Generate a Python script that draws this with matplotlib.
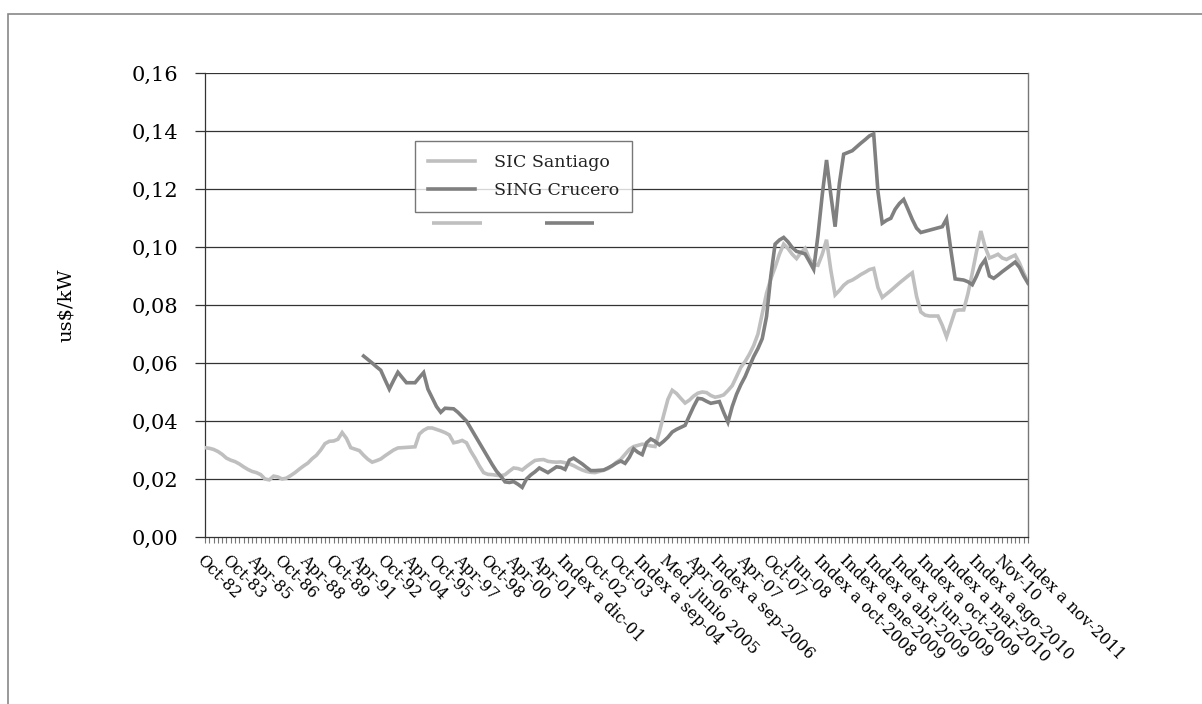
import matplotlib
import numpy as np
from matplotlib import pyplot as plt
from matplotlib.lines import Line2D
from matplotlib.patches import Rectangle
from matplotlib.ticker import FuncFormatter, MultipleLocator

matplotlib.use('Agg')

# etiquetas del eje x (una cada 6 categorías)
tick_labels = [
    'Oct-82', 'Oct-83', 'Apr-85', 'Oct-86', 'Apr-88', 'Oct-89', 'Apr-91',
    'Oct-92', 'Apr-04', 'Oct-95', 'Apr-97', 'Oct-98', 'Apr-00', 'Apr-01',
    'Index a dic-01', 'Oct-02', 'Oct-03', 'Index a sep-04', 'Med. junio 2005',
    'Apr-06', 'Index a sep-2006', 'Apr-07', 'Oct-07', 'Jun-08',
    'Index a oct-2008', 'Index a ene-2009', 'Index a abr-2009',
    'Index a jun-2009', 'Index a oct-2009', 'Index a mar-2010',
    'Index a ago-2010', 'Nov-10', 'Index a nov-2011',
]
label_step = 6

# SIC Santiago, us$/kW
sic_santiago = [
    0.0308, 0.0306, 0.0302, 0.0295, 0.0285, 0.0272, 0.0265, 0.0260, 0.0252, 0.0242,
    0.0233, 0.0226, 0.0222, 0.0215, 0.0200, 0.0197, 0.0210, 0.0207, 0.0200, 0.0203,
    0.0212, 0.0222, 0.0234, 0.0245, 0.0255, 0.0270, 0.0282, 0.0300, 0.0322, 0.0330,
    0.0331, 0.0337, 0.0360, 0.0340, 0.0308, 0.0303, 0.0298, 0.0282, 0.0268, 0.0258,
    0.0263, 0.0269, 0.0280, 0.0290, 0.0300, 0.0307, 0.0308, 0.0309, 0.0310, 0.0311,
    0.0355, 0.0368, 0.0376, 0.0376, 0.0371, 0.0366, 0.0360, 0.0352, 0.0325, 0.0328,
    0.0333, 0.0325, 0.0296, 0.0272, 0.0245, 0.0222, 0.0216, 0.0215, 0.0213, 0.0211,
    0.0215, 0.0227, 0.0238, 0.0236, 0.0231, 0.0243, 0.0254, 0.0264, 0.0266, 0.0267,
    0.0261, 0.0259, 0.0258, 0.0259, 0.0256, 0.0252, 0.0246, 0.0238, 0.0231, 0.0226,
    0.0223, 0.0222, 0.0226, 0.0230, 0.0236, 0.0245, 0.0258, 0.0268, 0.0285, 0.0302,
    0.0312, 0.0316, 0.0320, 0.0318, 0.0314, 0.0312, 0.0362, 0.0420, 0.0475, 0.0506,
    0.0495, 0.0478, 0.0462, 0.0472, 0.0486, 0.0496, 0.0500, 0.0498, 0.0488, 0.0482,
    0.0485, 0.0490, 0.0505, 0.0522, 0.0553, 0.0585, 0.0605, 0.0630, 0.0660, 0.0700,
    0.0770, 0.0840, 0.0890, 0.0930, 0.0975, 0.1010, 0.0995, 0.0975, 0.0960, 0.0980,
    0.0995, 0.0960, 0.0940, 0.0937, 0.0975, 0.1025, 0.0920, 0.0835, 0.0850, 0.0868,
    0.0880, 0.0886, 0.0895, 0.0905, 0.0913, 0.0922, 0.0926, 0.0860, 0.0826, 0.0838,
    0.0850, 0.0863, 0.0876, 0.0888, 0.0900, 0.0911, 0.0830, 0.0776, 0.0765, 0.0762,
    0.0762, 0.0762, 0.0730, 0.0690, 0.0735, 0.0780, 0.0783, 0.0783, 0.0840, 0.0910,
    0.0985, 0.1055, 0.1000, 0.0962, 0.0968, 0.0975, 0.0962, 0.0957, 0.0965, 0.0972,
    0.0945, 0.0910, 0.0880,
]

# SING Crucero, us$/kW (sin datos antes de Apr-91)
sing_start = 37
sing_crucero = [
    0.0624, 0.0612, 0.0600, 0.0587, 0.0575, 0.0542, 0.0510, 0.0540, 0.0568, 0.0550,
    0.0532, 0.0532, 0.0532, 0.0550, 0.0567, 0.0510, 0.0480, 0.0450, 0.0430, 0.0444,
    0.0443, 0.0442, 0.0430, 0.0415, 0.0400, 0.0375, 0.0350, 0.0325, 0.0300, 0.0275,
    0.0250, 0.0227, 0.0210, 0.0190, 0.0188, 0.0191, 0.0182, 0.0171, 0.0200, 0.0214,
    0.0225, 0.0238, 0.0230, 0.0222, 0.0232, 0.0242, 0.0240, 0.0233, 0.0265, 0.0272,
    0.0262, 0.0252, 0.0240, 0.0229, 0.0229, 0.0230, 0.0231, 0.0238, 0.0246, 0.0255,
    0.0262, 0.0254, 0.0275, 0.0304, 0.0292, 0.0284, 0.0325, 0.0338, 0.0330, 0.0318,
    0.0330, 0.0344, 0.0362, 0.0371, 0.0378, 0.0385, 0.0418, 0.0450, 0.0478, 0.0476,
    0.0468, 0.0461, 0.0464, 0.0467, 0.0430, 0.0396, 0.0450, 0.0492, 0.0525, 0.0553,
    0.0588, 0.0622, 0.0650, 0.0684, 0.0760, 0.0900, 0.1010, 0.1024, 0.1033, 0.1018,
    0.0998, 0.0985, 0.0981, 0.0976, 0.0950, 0.0923, 0.1040, 0.1180, 0.1300, 0.1180,
    0.1070, 0.1220, 0.1320, 0.1326, 0.1332, 0.1345, 0.1358, 0.1370, 0.1383, 0.1390,
    0.1190, 0.1082, 0.1092, 0.1099, 0.1130, 0.1150, 0.1164, 0.1130, 0.1095, 0.1065,
    0.1050, 0.1054, 0.1058, 0.1062, 0.1066, 0.1070, 0.1097, 0.0990, 0.0890, 0.0888,
    0.0886, 0.0880, 0.0870, 0.0900, 0.0935, 0.0956, 0.0900, 0.0892, 0.0903, 0.0915,
    0.0926, 0.0937, 0.0948, 0.0930, 0.0900, 0.0875,
]

SIC_COLOR = '#bfbfbf'
SING_COLOR = '#808080'
FONT = ['DejaVu Serif']

plt.rcParams['font.family'] = FONT
plt.rcParams['text.color'] = '#222222'

n = len(sic_santiago)
x_sic = np.arange(n)
x_sing = np.arange(sing_start, sing_start + len(sing_crucero))

fig = plt.figure(figsize=(12.02, 7.04), dpi=100)
ax = fig.add_axes([205 / 1202, 1 - 537 / 704, 823 / 1202, 464 / 704])

# rejilla horizontal
for v in np.arange(0.02, 0.161, 0.02):
    ax.axhline(v, color='#333333', linewidth=0.9, zorder=1)

ax.plot(x_sic, sic_santiago, color=SIC_COLOR, linewidth=2.6, label='SIC Santiago',
        solid_joinstyle='miter', zorder=3)
ax.plot(x_sing, sing_crucero, color=SING_COLOR, linewidth=2.6, label='SING Crucero',
        solid_joinstyle='miter', zorder=4)

ax.set_xlim(0, n - 1)
ax.set_ylim(0, 0.16)
ax.yaxis.set_major_locator(MultipleLocator(0.02))
ax.yaxis.set_major_formatter(FuncFormatter(lambda v, p: f'{v:.2f}'.replace('.', ',')))
ax.tick_params(axis='y', length=7, width=0.9, color='#333333', labelsize=15, pad=12)

ax.set_xticks(np.arange(0, n, label_step))
ax.set_xticklabels(tick_labels, rotation=-45, ha='left', va='top',
                   rotation_mode='anchor', fontsize=11.5)
ax.set_xticks(np.arange(n), minor=True)
ax.tick_params(axis='x', which='both', length=4, width=0.8, color='#777777', pad=7)

for side in ['left', 'bottom']:
    ax.spines[side].set_color('#333333')
    ax.spines[side].set_linewidth(0.9)
ax.spines['top'].set_visible(False)
ax.spines['right'].set_color('#777777')
ax.spines['right'].set_linewidth(1.0)

ax.set_ylabel('us$/kW', fontsize=14, labelpad=41)

leg = ax.legend(loc='upper left', bbox_to_anchor=((415 - 205) / 823, (537 - 141) / 464),
                frameon=True, fancybox=False, edgecolor='#555555', fontsize=12.5,
                handlelength=2.7, handletextpad=1.1, borderpad=0.75, labelspacing=0.65,
                borderaxespad=0)
leg.get_frame().set_linewidth(1.0)

# trazos sueltos bajo la leyenda, como en el original
for (x0, x1), c in [((432, 482), SIC_COLOR), ((545, 594), SING_COLOR)]:
    fig.add_artist(Line2D([x0 / 1202, x1 / 1202], [1 - 223 / 704] * 2,
                          color=c, linewidth=2.6, solid_capstyle='butt'))

# marco exterior
fig.add_artist(Rectangle((8 / 1202, -0.1), 1.2, 1 - 14 / 704 + 0.1, fill=False,
                         edgecolor='#888888', linewidth=1.2, transform=fig.transFigure))

fig.savefig('out.png', dpi=100)
plt.close(fig)
